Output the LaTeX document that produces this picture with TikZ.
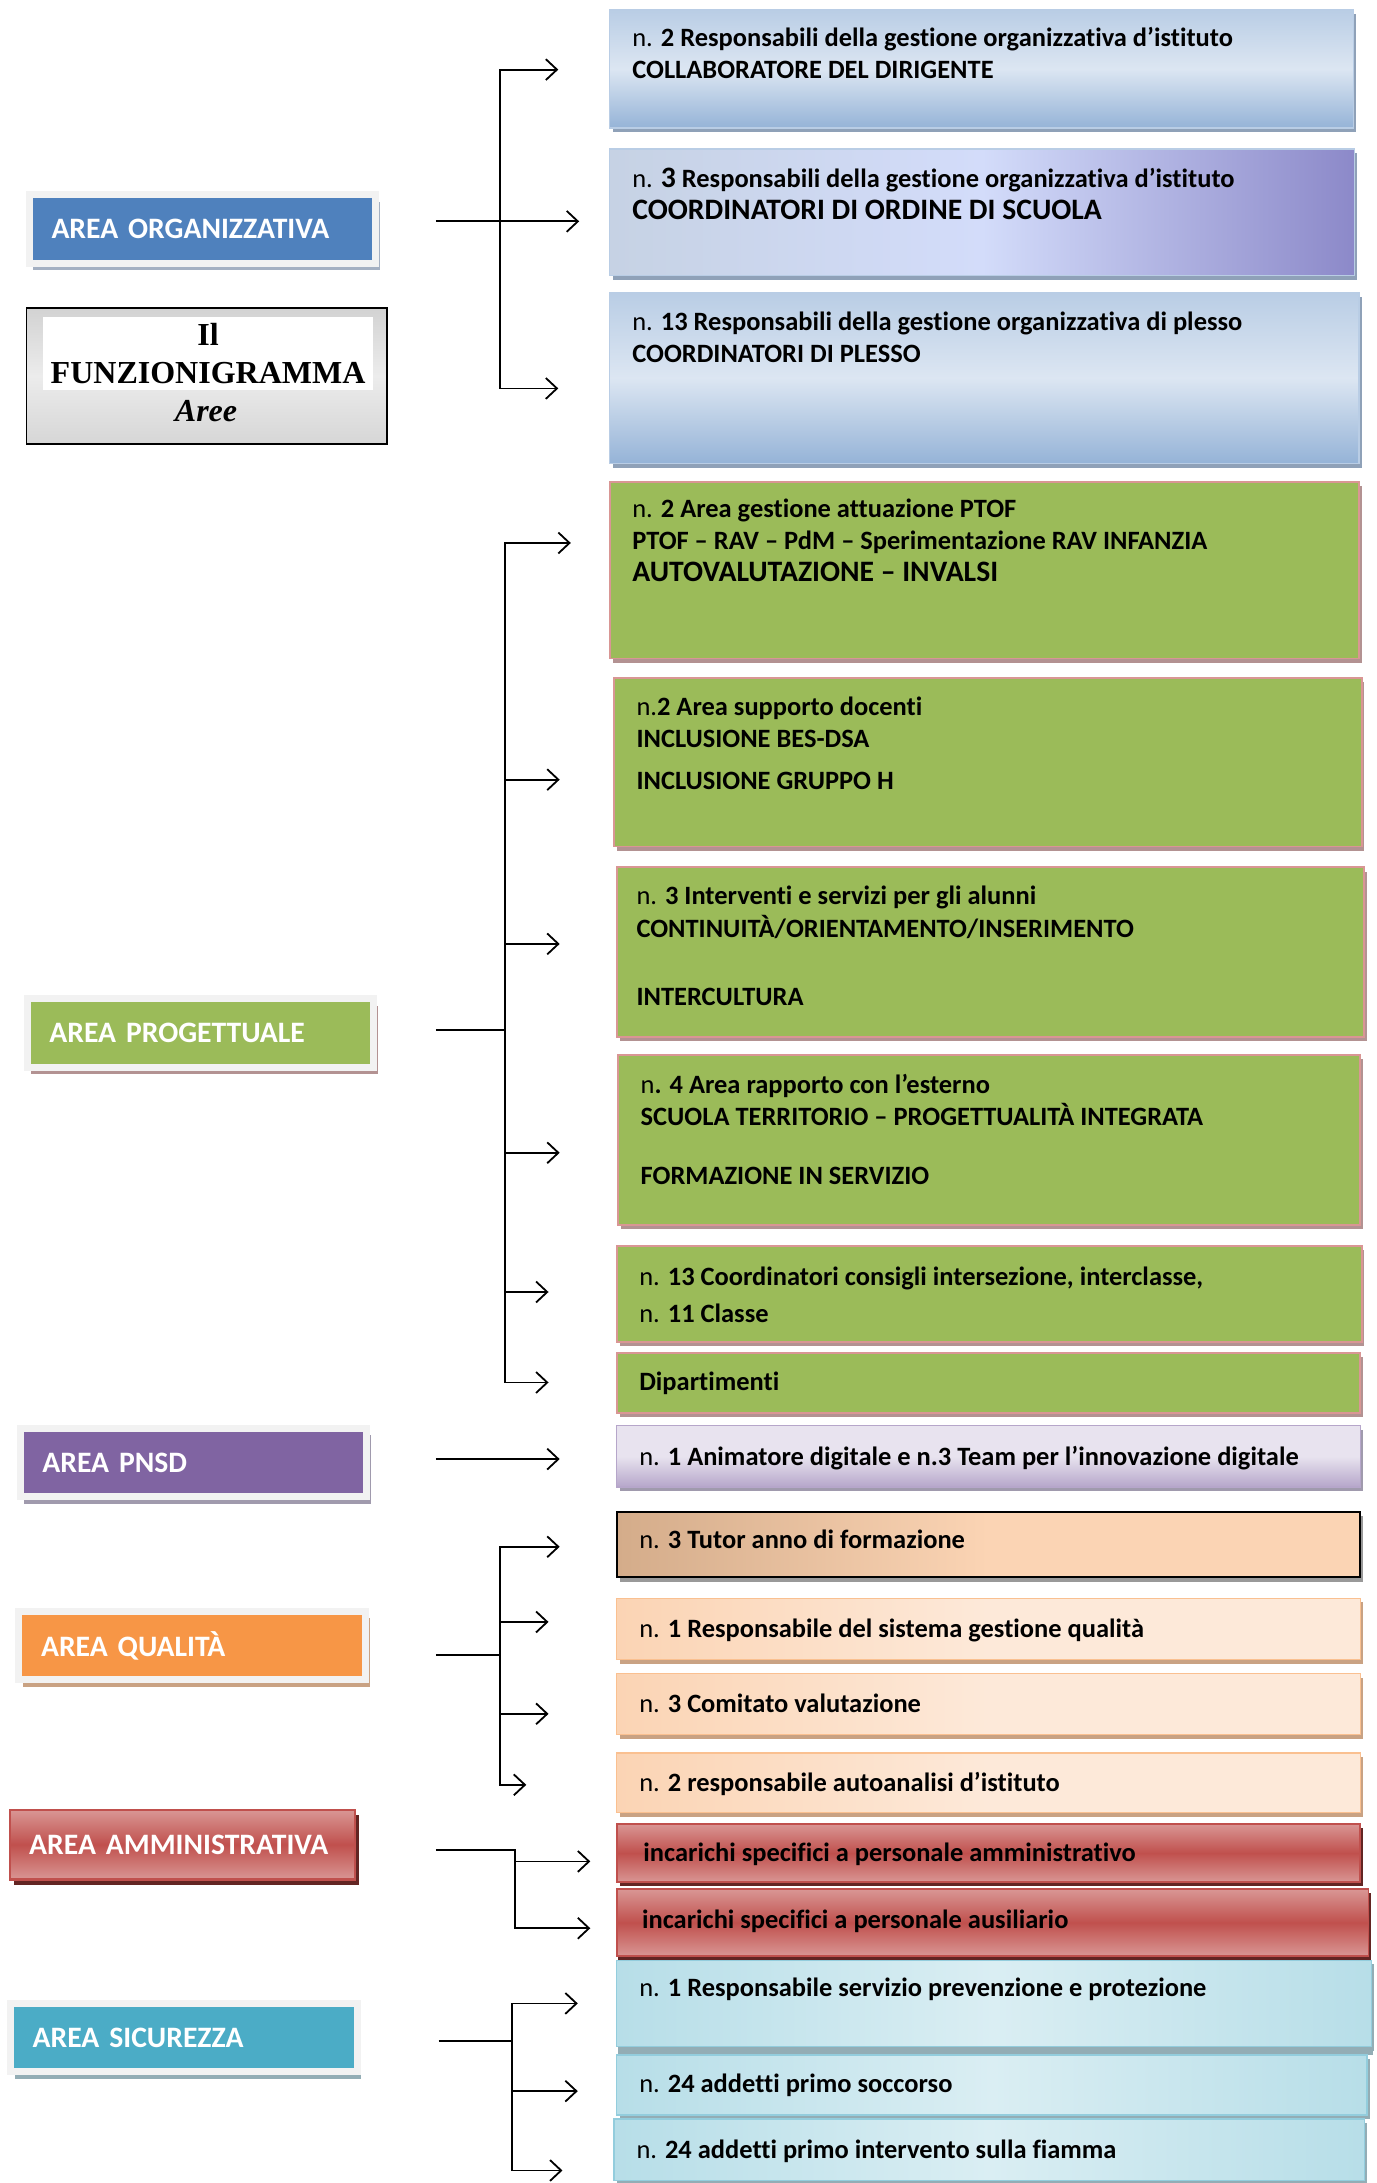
\documentclass[tikz,border=0pt]{standalone}
\usepackage{fontspec}
\setmainfont{Carlito}[Ligatures=NoCommon]
\newfontfamily\titlefont{Liberation Serif}
\usetikzlibrary{arrows.meta,shadows}

\definecolor{framegray}{HTML}{F2F2F2}
\definecolor{orgblue}{HTML}{4F81BD}
\definecolor{orgshade}{HTML}{A4B0C2}
\definecolor{proggreen}{HTML}{9BBB59}
\definecolor{progedge}{HTML}{D99694}
\definecolor{progshade}{HTML}{B39292}
\definecolor{pnsdpurple}{HTML}{8064A2}
\definecolor{pnsdshade}{HTML}{A09AAD}
\definecolor{pnsdlight}{HTML}{E8E3EF}
\definecolor{pnsdmid}{HTML}{B6A6CA}
\definecolor{qualorange}{HTML}{F79646}
\definecolor{qualshade}{HTML}{C9A283}
\definecolor{peachlight}{HTML}{FDE9D9}
\definecolor{peachmid}{HTML}{FBD4B4}
\definecolor{peachedge}{HTML}{FAC090}
\definecolor{tutortan}{HTML}{D4AC8A}
\definecolor{ammred}{HTML}{C0504D}
\definecolor{ammpink}{HTML}{D99694}
\definecolor{ammshade}{HTML}{632523}
\definecolor{sicteal}{HTML}{4BACC6}
\definecolor{sicshade}{HTML}{93ADB5}
\definecolor{teallight}{HTML}{DAEEF3}
\definecolor{tealmid}{HTML}{B7DEE8}
\definecolor{tealedge}{HTML}{93CDDD}
\definecolor{bluelight}{HTML}{DCE6F2}
\definecolor{bluemid}{HTML}{B9CDE5}
\definecolor{bluedark}{HTML}{95B3D7}
\definecolor{blueshade}{HTML}{8FA1B8}
\definecolor{periwinkle}{HTML}{D3DCFA}
\definecolor{periviolet}{HTML}{8C89C9}
\definecolor{perigreen}{HTML}{C6D2E4}

\begin{document}
\begin{tikzpicture}[x=1pt, y=-1pt,
    wire/.style={line width=1.3pt, black},
    arr/.style={wire, -{Straight Barb[length=8pt, width=15pt]}},
    barr/.style={wire, {Straight Barb[length=8pt, width=15pt]}-{Straight Barb[length=8pt, width=15pt]}},
    areashadow/.style={drop shadow={shadow xshift=3pt, shadow yshift=-5pt, opacity=1, fill=#1}},
    boxshadow/.style={drop shadow={shadow xshift=2pt, shadow yshift=-3pt, opacity=1, fill=#1}},
    area/.style={draw=framegray, line width=5pt, text=white, text width=217pt,
                 inner xsep=16pt, align=left, minimum height=49pt,
                 font=\fontsize{21.3}{25}\selectfont\bfseries},
    rbox/.style={line width=1pt, inner sep=0pt},
    bluebox/.style={rbox, draw=bluemid, top color=bluemid, bottom color=bluedark,
                    middle color=bluelight, boxshadow=blueshade},
    peribox/.style={rbox, draw=bluemid, left color=perigreen, right color=periviolet,
                    middle color=periwinkle, boxshadow=blueshade},
    greenbox/.style={rbox, draw=progedge, line width=1.3pt, fill=proggreen, boxshadow=progshade},
    pnsdbox/.style={rbox, draw=pnsdmid, top color=pnsdlight, bottom color=pnsdmid,
                    middle color=pnsdlight, boxshadow=pnsdshade},
    tutorbox/.style={rbox, draw=black, line width=1.3pt, left color=tutortan,
                     right color=peachmid, middle color=peachmid, boxshadow=black!40},
    peachbox/.style={rbox, draw=peachedge, left color=peachmid, right color=peachlight,
                     middle color=peachlight, boxshadow=qualshade},
    redbox/.style={rbox, draw=ammred, line width=1.3pt, top color=ammpink, bottom color=ammpink,
                   middle color=ammred, boxshadow=ammshade},
    tealbox/.style={rbox, draw=tealedge, left color=tealmid, right color=tealmid,
                    middle color=teallight, boxshadow=sicshade},
    txt/.style={anchor=north west, inner sep=0pt, align=left,
                font=\fontsize{19}{23}\selectfont\bfseries},
]

\useasboundingbox (0,0) rectangle (989,1568);
\fill[white] (0,0) rectangle (989,1568);

% Left column: areas
\node[area, fill=orgblue, areashadow=orgshade] (org) at (145.5,164.5) {AREA ORGANIZZATIVA};
\node[area, fill=proggreen, areashadow=progshade] (prog) at (144,742) {AREA PROGETTUALE};
\node[area, fill=pnsdpurple, areashadow=pnsdshade] (pnsd) at (139,1050.5) {AREA PNSD};
\node[area, fill=qualorange, areashadow=qualshade] (qual) at (138,1182) {AREA QUALITÀ};
\node[area, draw=ammred, line width=1.5pt, top color=ammpink, bottom color=ammpink,
      middle color=ammred, inner xsep=14pt, text width=220pt, minimum height=50pt,
      drop shadow={shadow xshift=3pt, shadow yshift=-4pt, opacity=1, fill=ammshade}]
    (amm) at (131,1325) {AREA AMMINISTRATIVA};
\node[area, fill=sicteal, areashadow=sicshade] (sic) at (132,1463.5) {AREA SICUREZZA};

% Title
\node[draw=black, line width=1.2pt, minimum width=259pt, minimum height=98pt,
      top color=gray!35, bottom color=gray!32, middle color=gray!15] (title) at (148.5,270) {};
\node[fill=white, minimum width=237pt, minimum height=52pt, inner sep=0pt, align=center,
      font=\titlefont\fontsize{23}{27}\selectfont\bfseries] (titletop) at (149.5,254)
    {Il\\FUNZIONIGRAMMA};
\node[font=\titlefont\fontsize{23}{27}\selectfont\bfseries\itshape] (aree) at (148,295) {Aree};

% Right column: area organizzativa
\node[bluebox, minimum width=534pt, minimum height=85pt] (r1) at (705,49.5) {};
\node[txt] (r1t) at (454,19.5)
    {\textmd{n.} 2 Responsabili della gestione organizzativa d’istituto\\
     COLLABORATORE DEL DIRIGENTE};
\node[peribox, minimum width=535pt, minimum height=91pt] (r2) at (705.5,152.5) {};
\node[txt] (r2t) at (454,120.5)
    {\textmd{n.} {\fontsize{21.3}{23}\selectfont 3} Responsabili della gestione organizzativa d’istituto\\
     {\fontsize{21.3}{25}\selectfont COORDINATORI DI ORDINE DI SCUOLA}};
\node[bluebox, minimum width=538pt, minimum height=123pt] (r3) at (707,271.5) {};
\node[txt] (r3t) at (454,223.5)
    {\textmd{n.} 13 Responsabili della gestione organizzativa di plesso\\
     COORDINATORI DI PLESSO};

% Right column: area progettuale
\node[greenbox, minimum width=538pt, minimum height=127pt] (r4) at (707,409.5) {};
\node[txt] (r4t) at (454,358.5)
    {\textmd{n.} 2 Area gestione attuazione PTOF\\
     PTOF – RAV – PdM – Sperimentazione RAV INFANZIA\\
     {\fontsize{21.3}{25}\selectfont AUTOVALUTAZIONE – INVALSI}};
\node[greenbox, minimum width=537pt, minimum height=121pt] (r5) at (709.5,547.5) {};
\node[txt] (r5t) at (457,500.5)
    {\textmd{n.}2 Area supporto docenti\\
     INCLUSIONE BES-DSA\\[7pt]
     INCLUSIONE GRUPPO H};
\node[greenbox, minimum width=537pt, minimum height=122pt] (r6) at (711.5,684) {};
\node[txt] (r6t) at (457,636.5)
    {\textmd{n.} 3 Interventi e servizi per gli alunni\\
     CONTINUITÀ/ORIENTAMENTO/INSERIMENTO\\[26pt]
     INTERCULTURA};
\node[greenbox, minimum width=533pt, minimum height=122pt] (r7) at (710.5,819) {};
\node[txt] (r7t) at (460,771.5)
    {\textmd{n}. 4 Area rapporto con l’esterno\\
     SCUOLA TERRITORIO – PROGETTUALITÀ INTEGRATA\\[19pt]
     FORMAZIONE IN SERVIZIO};
\node[greenbox, minimum width=535pt, minimum height=69pt] (r8) at (710.5,929.5) {};
\node[txt] (r8t) at (459,909.5)
    {\textmd{n.} 13 Coordinatori consigli intersezione, interclasse,\\[4pt]
     \textmd{n.} 11 Classe};
\node[greenbox, minimum width=534pt, minimum height=43pt] (r9) at (710,993.5) {};
\node[txt] (r9t) at (459,985.5) {Dipartimenti};

% Right column: area pnsd
\node[pnsdbox, minimum width=534pt, minimum height=44pt] (r10) at (710,1046) {};
\node[txt] (r10t) at (459,1038.5)
    {\textmd{n.} 1 Animatore digitale e n.3 Team per l’innovazione digitale};

% Right column: area qualita
\node[tutorbox, minimum width=534pt, minimum height=47pt] (r11) at (710,1109.5) {};
\node[txt] (r11t) at (459,1098.5) {\textmd{n.} 3 Tutor anno di formazione};
\node[peachbox, minimum width=534pt, minimum height=44pt] (r12) at (710,1170) {};
\node[txt] (r12t) at (459,1162.5) {\textmd{n.} 1 Responsabile del sistema gestione qualità};
\node[peachbox, minimum width=534pt, minimum height=44pt] (r13) at (710,1224) {};
\node[txt] (r13t) at (459,1216.5) {\textmd{n.} 3 Comitato valutazione};
\node[peachbox, minimum width=534pt, minimum height=43pt] (r14) at (710,1280.5) {};
\node[txt] (r14t) at (459,1272.5) {\textmd{n.} 2 responsabile autoanalisi d’istituto};

% Right column: area amministrativa
\node[redbox, minimum width=534pt, minimum height=42pt] (r15) at (710,1331) {};
\node[txt] (r15t) at (462,1323.5) {incarichi specifici a personale amministrativo};
\node[redbox, minimum width=540pt, minimum height=48pt,
      drop shadow={shadow xshift=1pt, shadow yshift=-7pt, opacity=1, fill=ammshade}] (r16) at (713,1381) {};
\node[txt] (r16t) at (461,1371.5) {incarichi specifici a personale ausiliario};

% Right column: area sicurezza
\node[tealbox, minimum width=542pt, minimum height=62pt,
      drop shadow={shadow xshift=1pt, shadow yshift=-6pt, opacity=1, fill=sicshade}] (r17) at (714,1439) {};
\node[txt] (r17t) at (459,1420.5) {\textmd{n.} 1 Responsabile servizio prevenzione e protezione};
\node[tealbox, minimum width=539pt, minimum height=43pt] (r18) at (712.5,1497.5) {};
\node[txt] (r18t) at (459,1489.5) {\textmd{n.} 24 addetti primo soccorso};
\node[tealbox, minimum width=539pt, minimum height=44pt] (r19) at (710.5,1544) {};
\node[txt] (r19t) at (457,1536.5) {\textmd{n.} 24 addetti primo intervento sulla fiamma};

% Connectors: area organizzativa
\coordinate (orgin) at (313,159);
\coordinate (orgtop) at (359,50);
\coordinate (orgbot) at (359,279);
\coordinate (tipA) at (401,50);
\coordinate (tipB) at (416,159);
\coordinate (tipC) at (401,279);
\draw[barr] (tipA) -- (orgtop) -- (orgbot) -- (tipC);
\draw[arr] (orgin) -- (tipB);

% Connectors: area progettuale
\coordinate (progin) at (313,740);
\coordinate (progtop) at (363,390);
\coordinate (progbot) at (363,993);
\coordinate (tipD) at (410,390);
\coordinate (tipE) at (402,560);
\coordinate (tipF) at (402,678);
\coordinate (tipG) at (402,828);
\coordinate (tipH) at (394,928);
\coordinate (tipI) at (394,993);
\draw[barr] (tipD) -- (progtop) -- (progbot) -- (tipI);
\draw[wire] (progin) -- (progin -| progtop);
\draw[arr] (tipE -| progtop) -- (tipE);
\draw[arr] (tipF -| progtop) -- (tipF);
\draw[arr] (tipG -| progtop) -- (tipG);
\draw[arr] (tipH -| progtop) -- (tipH);

% Connectors: area pnsd
\coordinate (pnsdin) at (313,1048);
\coordinate (tipJ) at (402,1048);
\draw[arr] (pnsdin) -- (tipJ);

% Connectors: area qualita
\coordinate (qualin) at (313,1189);
\coordinate (qualtop) at (359,1111);
\coordinate (qualbot) at (359,1282);
\coordinate (tipK) at (402,1111);
\coordinate (tipL) at (394,1165);
\coordinate (tipM) at (394,1231);
\coordinate (tipN) at (378,1282);
\draw[barr] (tipK) -- (qualtop) -- (qualbot) -- (tipN);
\draw[wire] (qualin) -- (qualin -| qualtop);
\draw[arr] (tipL -| qualtop) -- (tipL);
\draw[arr] (tipM -| qualtop) -- (tipM);

% Connectors: area amministrativa
\coordinate (ammin) at (313,1329);
\coordinate (ammbot) at (370,1385);
\coordinate (tipO) at (424,1337);
\coordinate (tipP) at (424,1385);
\draw[arr] (ammin) -| (ammbot) -- (tipP);
\draw[arr] (tipO -| ammbot) -- (tipO);

% Connectors: area sicurezza
\coordinate (sicin) at (315,1466);
\coordinate (sictop) at (368,1439);
\coordinate (sicbot) at (368,1559);
\coordinate (tipQ) at (415,1439);
\coordinate (tipR) at (415,1502);
\coordinate (tipS) at (404,1559);
\draw[barr] (tipQ) -- (sictop) -- (sicbot) -- (tipS);
\draw[wire] (sicin) -- (sicin -| sictop);
\draw[arr] (tipR -| sictop) -- (tipR);

\end{tikzpicture}
\end{document}
